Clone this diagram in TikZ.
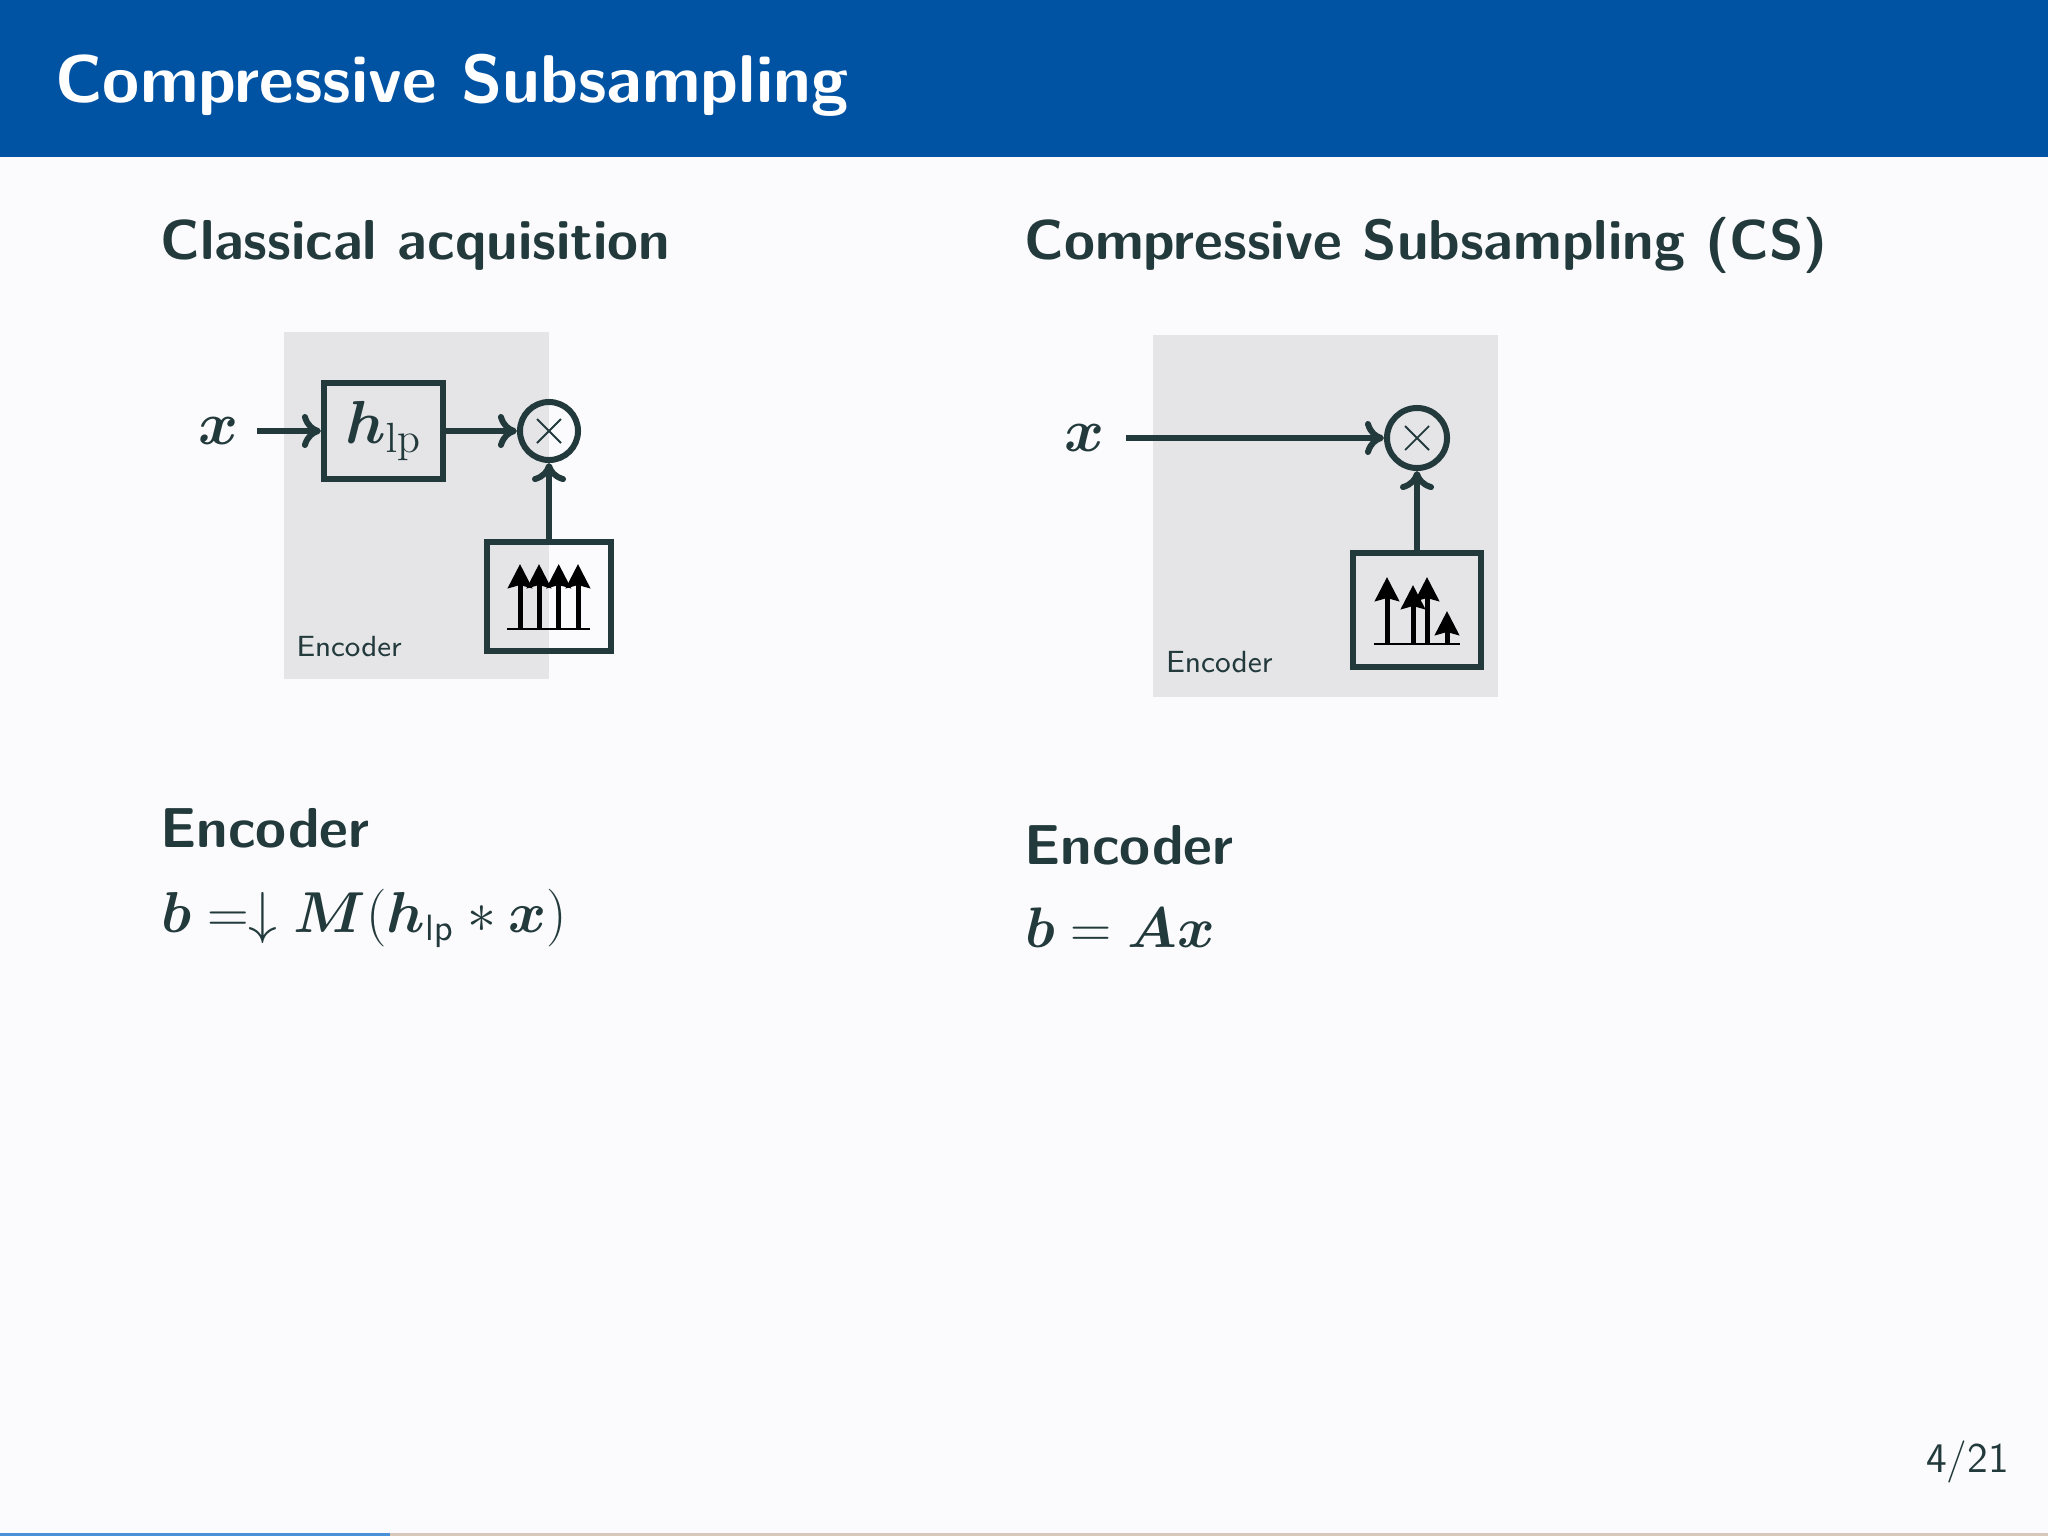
\documentclass[tikz,border=0pt]{standalone}
\usepackage{amsmath,bm,graphicx}
\usetikzlibrary{arrows.meta,calc}
\definecolor{band}{HTML}{0052A3}
\definecolor{ink}{HTML}{233A3C}
\definecolor{paper}{HTML}{FBFBFD}
\definecolor{panel}{HTML}{E5E5E8}
\definecolor{progb}{HTML}{4A90D9}
\definecolor{progr}{HTML}{D8C8BC}
\tikzset{
  txt/.style={anchor=base west,inner sep=0pt,outer sep=0pt,text=ink,font=\sffamily},
  block/.style={draw=ink,line width=0.06cm,rectangle,inner sep=0pt},
  mixer/.style={draw=ink,line width=0.06cm,circle,inner sep=0pt},
  conn/.style={draw=ink,line width=0.06cm,-{Computer Modern Rightarrow[length=0.19cm,width=0.34cm,round]}},
  spike/.style={line width=0.05cm,black,-{Stealth[length=0.24cm,width=0.24cm,inset=0.03cm]}},
  axisl/.style={line width=0.022cm,black},
  cross/.style={draw=ink,line width=0.018cm},
}
\begin{document}
\begin{tikzpicture}[x=0.01cm,y=-0.01cm]
\useasboundingbox (0,0) rectangle (2048,1536);
\fill[paper] (0,0) rectangle (2048,1536);
\fill[band] (0,0) rectangle (2048,157);
\fill[progr] (0,1533) rectangle (2048,1536);
\fill[progb] (0,1533) rectangle (390,1536);
\node[txt,text=white,font=\sffamily\bfseries\fontsize{19.2}{22}\selectfont] (title) at (55.5,102) {Compressive Subsampling};
\node[txt,font=\sffamily\bfseries\fontsize{16}{18}\selectfont] (h1) at (160.5,259.5) {Classical acquisition};
\node[txt,font=\sffamily\bfseries\fontsize{16}{18}\selectfont] (h2) at (1024.5,259.5) {Compressive Subsampling (CS)};

% left diagram
\fill[panel] (284,332) rectangle (549,679);
\node[txt,font=\sffamily\fontsize{8.3}{10}\selectfont] (enc1) at (296.5,656) {Encoder};
\node[inner sep=0pt,text=ink,font=\fontsize{17.5}{20}\selectfont] (x1) at (218.5,431) {$\bm{x}$};
\coordinate (s1) at (257,431);
\node[block,minimum width=1.19cm,minimum height=0.96cm,text=ink,font=\fontsize{16.4}{20}\selectfont] (hlp) at (383.5,431) {\raisebox{0.03cm}{$\bm{h}_{\mathrm{lp}}$}};
\node[mixer,minimum size=0.58cm] (m1) at (549,431) {};
\node[block,minimum width=1.23cm,minimum height=1.09cm] (c1) at (549,596.5) {};
\draw[cross] ($(m1)+(-12,-12)$) -- ($(m1)+(12,12)$);
\draw[cross] ($(m1)+(-12,12)$) -- ($(m1)+(12,-12)$);
\draw[conn] (s1) -- (hlp);
\draw[conn] (hlp) -- (m1);
\draw[conn] (c1) -- (m1);
\draw[axisl] (507,629) -- (590,629);
\foreach \a in {520,539,558.7,578} \draw[spike] (\a,629) -- (\a,564);

% right diagram
\fill[panel] (1153,335) rectangle (1498,697);
\node[txt,font=\sffamily\fontsize{8.7}{10}\selectfont] (enc2) at (1166,672) {Encoder};
\node[inner sep=0pt,text=ink,font=\fontsize{17.5}{20}\selectfont] (x2) at (1084.5,438) {$\bm{x}$};
\coordinate (s2) at (1126,438);
\node[mixer,minimum size=0.60cm] (m2) at (1417,438) {};
\node[block,minimum width=1.28cm,minimum height=1.14cm] (c2) at (1417,610) {};
\draw[cross] ($(m2)+(-12,-12)$) -- ($(m2)+(12,12)$);
\draw[cross] ($(m2)+(-12,12)$) -- ($(m2)+(12,-12)$);
\draw[conn] (s2) -- (m2);
\draw[conn] (c2) -- (m2);
\draw[axisl] (1374,644) -- (1460,644);
\draw[spike] (1387,644) -- (1387,577);
\draw[spike] (1427,644) -- (1427,577);
\draw[spike] (1413,644) -- (1413,585);
\draw[spike] (1447,644) -- (1447,611);

% equations
\node[txt,font=\sffamily\bfseries\fontsize{16}{18}\selectfont] (e1) at (160.5,847) {Encoder};
\node[txt,font=\fontsize{16}{18}\selectfont] (q1) at (161,932) {\scalebox{0.95}{$\bm{b} =\downarrow \bm{M}(\bm{h}_{\mathsf{lp}} * \bm{x})$}};
\node[txt,font=\sffamily\bfseries\fontsize{16}{18}\selectfont] (e2) at (1024.5,864) {Encoder};
\node[txt,font=\fontsize{16}{18}\selectfont] (q2) at (1025,947) {\scalebox{0.94}{$\bm{b} = \bm{A}\bm{x}$}};
\node[txt,font=\sffamily\fontsize{12}{13}\selectfont] (pg) at (1926,1472) {4/21};
\end{tikzpicture}
\end{document}
